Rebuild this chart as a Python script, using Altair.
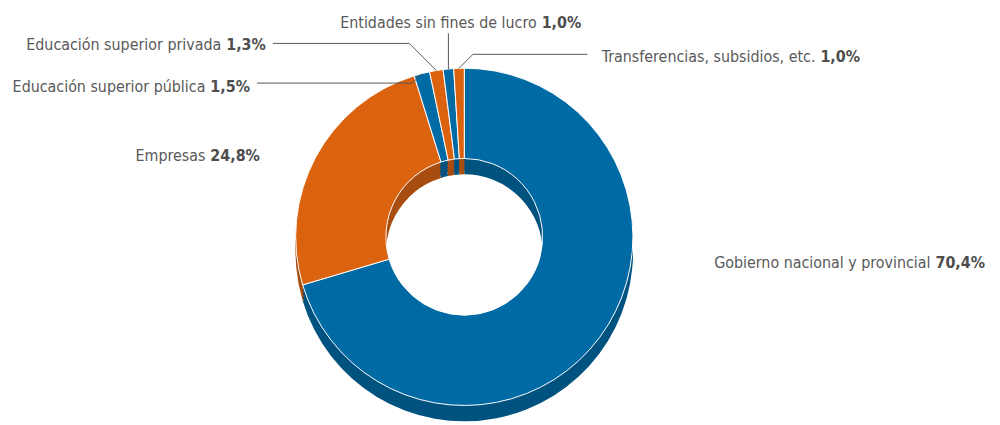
import math
import altair as alt
import pandas as pd

# ---- data ----
categories = [
    "Gobierno nacional y provincial",
    "Empresas",
    "Educación superior pública",
    "Educación superior privada",
    "Entidades sin fines de lucro",
    "Transferencias, subsidios, etc.",
]
shares = [70.4, 24.8, 1.5, 1.3, 1.0, 1.0]
pct_text = ["70,4%", "24,8%", "1,5%", "1,3%", "1,0%", "1,0%"]

# ---- styles / layout ----
top_colors = ["#006aa5", "#db620f", "#006aa5", "#db620f", "#006aa5", "#db620f"]
side_colors = ["#00537f", "#a84d10", "#00537f", "#a84d10", "#00537f", "#a84d10"]
W, H = 992, 417
CX, CY = 460, 229          # donut centre (chart coords)
R_OUT, R_IN = 170, 79
DEPTH = 16
FONT = "DejaVu Sans Condensed, Roboto, sans-serif"
FSIZE = 16
TXT = "#595959"

# label anchors: (name_end_x, baseline_y, line_y or None, kind, label_start_x, label_end_x)
label_layout = {
    "Gobierno nacional y provincial": (930, 260, None, None),
    "Empresas": (199, 153, None, None),
    "Educación superior pública": (199, 83, 74, "left"),
    "Educación superior privada": (215, 41, 34, "left"),
    "Entidades sin fines de lucro": (533, 18, 24, "vertical"),
    "Transferencias, subsidios, etc.": (814, 53, 45, "right"),
}
GAP = 5

df = pd.DataFrame({"name": categories, "value": shares, "pct": pct_text,
                   "idx": list(range(len(categories)))})
tot = sum(shares)
cum = 0.0
mids = []
for v in shares:
    mids.append((cum + v / 2) / tot * 2 * math.pi)
    cum += v

lab_rows = []
line_rows = []
for name, pct, mid in zip(categories, pct_text, mids):
    ax, yb, ly, kind = label_layout[name]
    lab_rows.append({"name": name, "pct": pct, "xa": ax, "xp": ax + GAP, "y": yb})
    if kind is None:
        continue
    px = CX + R_OUT * math.sin(mid)
    py = CY - R_OUT * math.cos(mid)
    if kind == "left":
        pts = [(ax + GAP + 40 + 7, ly), (px - abs(py - ly), ly), (px, py)]
    elif kind == "right":
        pts = [(ax - 230, ly), (px + abs(py - ly), ly), (px, py)]
    else:
        pts = [(px, ly), (px, py)]
    for k, (x, y) in enumerate(pts):
        line_rows.append({"name": name, "k": k, "x": x, "y": y})
labels = pd.DataFrame(lab_rows)
lines = pd.DataFrame(line_rows)

base = alt.Chart(df)
theta = alt.Theta("value:Q", stack=True)
order = alt.Order("idx:Q", sort="ascending")

layers = []
for off in [DEPTH, 12, 8, 4]:
    layers.append(
        base.mark_arc(outerRadius=R_OUT, innerRadius=R_IN, stroke=None).encode(
            theta=theta, order=order,
            color=alt.Color("name:N", scale=alt.Scale(domain=categories, range=side_colors), legend=None),
            x=alt.value(CX), y=alt.value(CY + off),
        )
    )
top = base.mark_arc(outerRadius=R_OUT, innerRadius=R_IN, stroke="white", strokeWidth=1).encode(
    theta=theta, order=order,
    color=alt.Color("name:N", scale=alt.Scale(domain=categories, range=top_colors), legend=None),
    x=alt.value(CX), y=alt.value(CY),
)
layers.append(top)

lead = alt.Chart(lines).mark_line(color="#555555", strokeWidth=1).encode(
    x=alt.X("x:Q", scale=None, axis=None),
    y=alt.Y("y:Q", scale=None, axis=None),
    detail="name:N", order="k:Q",
)
names = alt.Chart(labels).mark_text(align="right", baseline="alphabetic", font=FONT,
                                    fontSize=FSIZE, color=TXT).encode(
    x=alt.X("xa:Q", scale=None, axis=None), y=alt.Y("y:Q", scale=None, axis=None), text="name:N")
pcts = alt.Chart(labels).mark_text(align="left", baseline="alphabetic", font=FONT,
                                   fontSize=FSIZE, fontWeight="bold", color="#4d4d4d").encode(
    x=alt.X("xp:Q", scale=None, axis=None), y=alt.Y("y:Q", scale=None, axis=None), text="pct:N")

chart = alt.layer(*layers, lead, names, pcts).resolve_scale(color="independent").properties(
    width=W, height=H, padding=0, autosize=alt.AutoSizeParams(type="none")
).configure_view(stroke=None)

chart.save("out.html", embed_options={"renderer": "svg", "actions": False})
